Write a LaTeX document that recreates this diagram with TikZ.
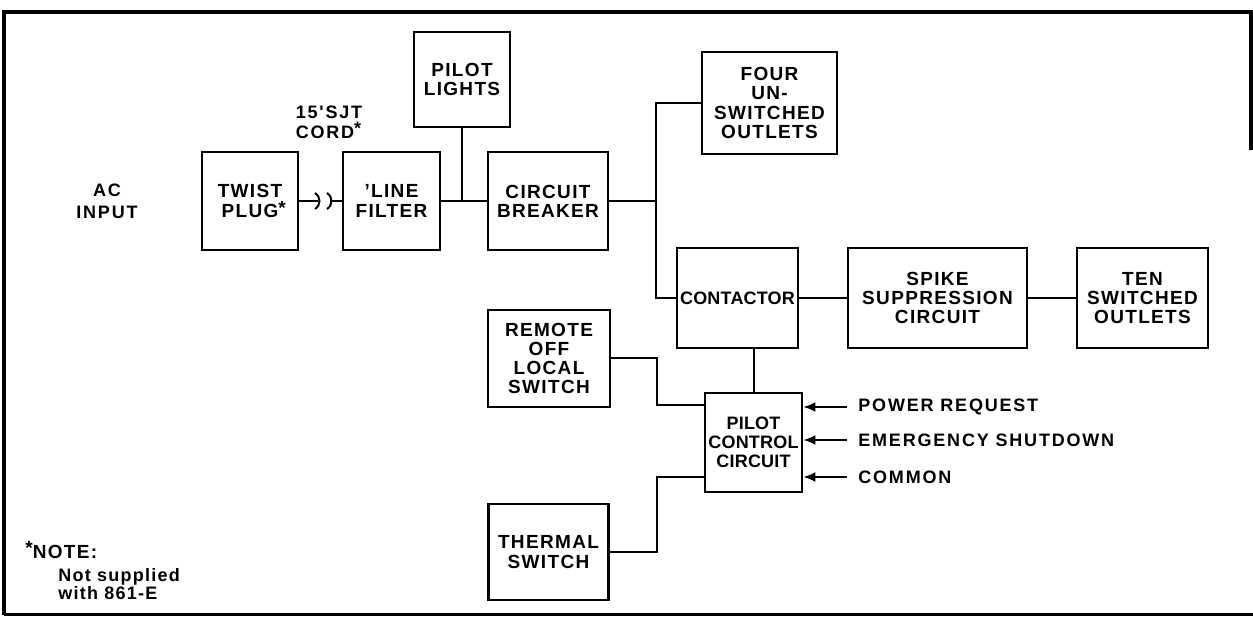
\documentclass[tikz,border=0pt]{standalone}
\usepackage{fontspec}
\setmainfont{Liberation Sans}[LetterSpace=7]
\newfontfamily\widefont{Liberation Sans}[LetterSpace=10]
\newfontfamily\tightfont{Liberation Sans}[LetterSpace=1]
\usetikzlibrary{arrows.meta,calc}

\begin{document}
\begin{tikzpicture}[x=0.5pt,y=-0.5pt,
    blk/.style={draw, line width=1.4pt, align=center, inner sep=0pt,
        font=\fontsize{9.5}{9.6}\selectfont\bfseries},
    wire/.style={line width=1pt},
    sig/.style={wire,-{Latex[length=6pt,width=5pt]}},
    lbl/.style={font=\fontsize{9}{9}\selectfont\widefont\bfseries, inner sep=0pt}]
\useasboundingbox (0,0) rectangle (1253,619);
% frame
\draw[line width=2pt] (1251,150) -- (1251,12) -- (4,12) -- (4,615);
\draw[line width=1.5pt] (4,615) -- (1253,615);

% blocks
\node[lbl, align=center] (acin) at (107,201) {AC\\[2pt]INPUT};
\node[blk, minimum width=48pt, minimum height=49pt] (plug) at (250,201)
    {TWIST\\PLUG\rlap{\smash{\raisebox{.3ex}{*}}}};
\node[blk, minimum width=48.5pt, minimum height=49pt] (filter) at (391.5,201)
    {'LINE\\FILTER};
\node[blk, minimum width=48pt, minimum height=47.5pt] (lights) at (462,79.5)
    {PILOT\\LIGHTS};
\node[blk, minimum width=60pt, minimum height=49pt] (breaker) at (548,201)
    {CIRCUIT\\BREAKER};
\node[blk, minimum width=67.5pt, minimum height=51pt] (unsw) at (769.5,103)
    {FOUR\\UN-\\SWITCHED\\OUTLETS};
\node[blk, minimum width=60.5pt, minimum height=50pt,
    font=\fontsize{9}{9.4}\selectfont\tightfont\bfseries] (contactor) at (737.5,298)
    {CONTACTOR};
\node[blk, minimum width=89.5pt, minimum height=50pt] (spike) at (937.5,298)
    {SPIKE\\SUPPRESSION\\CIRCUIT};
\node[blk, minimum width=65.5pt, minimum height=50pt] (tensw) at (1142.5,298)
    {TEN\\SWITCHED\\OUTLETS};
\node[blk, minimum width=61pt, minimum height=48.5pt] (remote) at (549,358.5)
    {REMOTE\\OFF\\LOCAL\\SWITCH};
\node[blk, minimum width=48.5pt, minimum height=49.5pt,
    font=\fontsize{9}{9.6}\selectfont\tightfont\bfseries] (pilotctl) at (753.5,442.5)
    {PILOT\\CONTROL\\CIRCUIT};
\node[blk, minimum width=60pt, minimum height=48pt] (thermal) at (548.5,552)
    {THERMAL\\SWITCH};

% cord label
\node[lbl, align=left] (cord) at (329,122) {15'SJT\\[1pt]CORD\raisebox{.4ex}{*}};

% mains path
\coordinate (brkA) at (318,201);
\coordinate (brkB) at (330,201);
\draw[wire] (plug.east) -- (brkA);
\draw[wire] (brkB) -- (filter.west);
\draw[wire] (brkA) ++(-3,-8) .. controls +(6,4) and +(6,-4) .. ++(0,16);
\draw[wire] (brkB) ++(-3,-8) .. controls +(6,4) and +(6,-4) .. ++(0,16);
\coordinate (tap) at (lights.south |- filter.east);
\draw[wire] (filter.east) -- (breaker.west);
\draw[wire] (lights.south) -- (tap);
\coordinate (bus) at (656,201);
\draw[wire] (breaker.east) -- (bus) |- (unsw.west);
\draw[wire] (bus) |- (contactor.west);
\draw[wire] (contactor.east) -- (spike.west);
\draw[wire] (spike.east) -- (tensw.west);

% control
\draw[wire] (pilotctl.north) -- (pilotctl.north |- contactor.south);
\coordinate (rknee) at (657,405);
\draw[wire] (remote.east) -| (rknee) -- (rknee -| pilotctl.west);
\coordinate (tknee) at (657,477);
\draw[wire] (thermal.east) -| (tknee) -- (tknee -| pilotctl.west);

\node[lbl, anchor=west] (pwrreq) at (858,407) {POWER REQUEST};
\node[lbl, anchor=west] (emshut) at (858,440) {EMERGENCY SHUTDOWN};
\node[lbl, anchor=west] (common) at (858,477) {COMMON};
\draw[sig] ([xshift=-5.5pt]pwrreq.west) -- (pwrreq.west -| pilotctl.east);
\draw[sig] ([xshift=-5.5pt]emshut.west) -- (emshut.west -| pilotctl.east);
\draw[sig] ([xshift=-5.5pt]common.west) -- (common.west -| pilotctl.east);

% note
\node[anchor=west, inner sep=0pt, font=\fontsize{9.5}{9.5}\selectfont\bfseries]
    (note) at (25,550) {\raisebox{.4ex}{*}NOTE:};
\node[anchor=west, inner sep=0pt, align=left, font=\fontsize{9}{9.3}\selectfont\bfseries]
    (notetxt) at (58,584) {Not supplied\\with 861-E};
\end{tikzpicture}
\end{document}
